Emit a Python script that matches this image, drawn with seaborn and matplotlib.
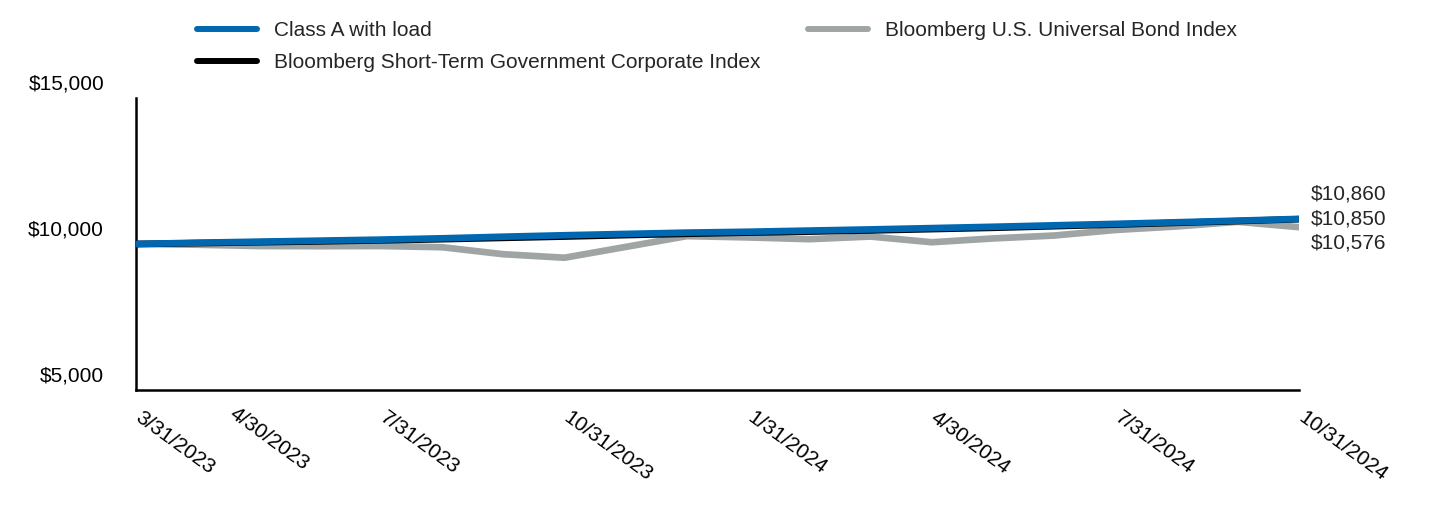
import numpy as np
import pandas as pd
import seaborn as sns
import matplotlib
matplotlib.use("Agg")
import matplotlib.pyplot as plt
from matplotlib.lines import Line2D
from matplotlib.transforms import ScaledTranslation

# monthly points, 3/31/2023 .. 10/31/2024
dates = ["3/31/2023", "4/30/2023", "5/31/2023", "6/30/2023", "7/31/2023", "8/31/2023",
         "9/30/2023", "10/31/2023", "11/30/2023", "12/31/2023", "1/31/2024", "2/29/2024",
         "3/31/2024", "4/30/2024", "5/31/2024", "6/30/2024", "7/31/2024", "8/31/2024",
         "9/30/2024", "10/31/2024"]
class_a = [10000, 10045, 10080, 10115, 10150, 10195, 10250, 10300, 10345, 10390,
           10420, 10460, 10500, 10545, 10590, 10640, 10690, 10745, 10800, 10860]
short_term = [10000, 10030, 10060, 10090, 10125, 10165, 10210, 10255, 10305, 10350,
              10390, 10425, 10465, 10510, 10555, 10610, 10665, 10725, 10785, 10850]
universal = [10000, 9975, 9930, 9925, 9930, 9890, 9650, 9530, 9900, 10270,
             10225, 10165, 10255, 10060, 10190, 10290, 10480, 10600, 10760, 10576]
shown_ticks = ["3/31/2023", "4/30/2023", "7/31/2023", "10/31/2023",
               "1/31/2024", "4/30/2024", "7/31/2024", "10/31/2024"]
end_labels = ["$10,860", "$10,850", "$10,576"]

names = ["Class A with load", "Bloomberg Short-Term Government Corporate Index",
         "Bloomberg U.S. Universal Bond Index"]
colors = ["#0067b1", "#000000", "#9fa4a4"]

df = pd.DataFrame({"month": np.arange(len(dates)), "date": dates,
                   names[0]: class_a, names[1]: short_term, names[2]: universal})

sns.set_style("white")
plt.rcParams["font.family"] = ["Liberation Sans", "DejaVu Sans"]
plt.rcParams["font.size"] = 15

fig = plt.figure(figsize=(14.4, 5.16), dpi=100)
ax = fig.add_axes([136 / 1440, 1 - 390 / 516, (1299 - 136) / 1440, (390 - 98) / 516])

# gray under black under blue
for name, color, z in [(names[2], colors[2], 2), (names[1], colors[1], 3), (names[0], colors[0], 4)]:
    sns.lineplot(data=df, x="month", y=name, color=color, lw=4.8, ax=ax, zorder=z)

ax.set_xlim(0, len(dates) - 1)
ax.set_ylim(5000, 15000)
ax.set_xlabel("")
ax.set_ylabel("")

pos = [dates.index(d) for d in shown_ticks]
ax.set_xticks(pos)
ax.set_xticklabels(shown_ticks)
ax.set_yticks([5000, 10000, 15000])
ax.set_yticklabels(["$5,000", "$10,000", "$15,000"])
ax.tick_params(axis="both", length=0, labelsize=15, colors="black")
ax.tick_params(axis="y", pad=23)
ax.tick_params(axis="x", pad=13)
plt.setp(ax.get_xticklabels(), rotation=-36, ha="left", va="top", rotation_mode="anchor")

# labels sit a bit above the gridline value
for lab in ax.get_yticklabels():
    lab.set_transform(lab.get_transform() + ScaledTranslation(0, 16 / 100, fig.dpi_scale_trans))
for i, lab in enumerate(ax.get_xticklabels()):
    dx = 40 if i == 1 else 7  # second date label nudged right to clear the first one
    dy = 4 if i == 1 else 0
    lab.set_transform(lab.get_transform() + ScaledTranslation(dx / 100, dy / 100, fig.dpi_scale_trans))

sns.despine(ax=ax)
for side in ["left", "bottom"]:
    ax.spines[side].set_linewidth(1.8)
    ax.spines[side].set_color("black")

last = len(dates) - 1
for txt, series, dy in zip(end_labels, [class_a, short_term, universal], [18, 0, -11.5]):
    ax.annotate(txt, xy=(last, series[-1]), xytext=(8.5, dy), textcoords="offset points",
                ha="left", va="center", fontsize=15, annotation_clip=False)

handles = [Line2D([], [], color=c, lw=4.3) for c in colors]
fig.legend(handles, names, loc="upper left", bbox_to_anchor=(197 / 1440, 1 - 21 / 516),
           ncol=2, frameon=False, borderpad=0, handlelength=2.88, handletextpad=0.82,
           columnspacing=2.26, labelspacing=0.64, fontsize=15, borderaxespad=0)

fig.savefig("out.png", dpi=100)
